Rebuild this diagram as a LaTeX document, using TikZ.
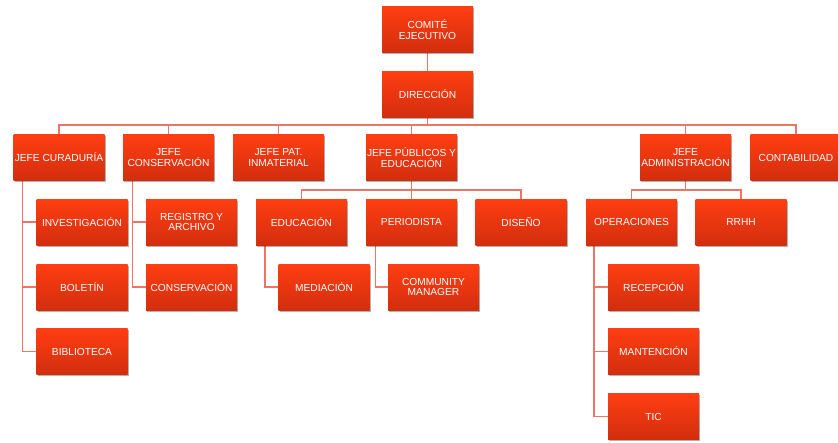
\documentclass[tikz,border=0pt]{standalone}
\usepackage{fontspec}
\setmainfont{Liberation Sans}
\usetikzlibrary{shadows,backgrounds}
\definecolor{boxtop}{HTML}{FF3E12}
\definecolor{boxbot}{HTML}{D22E0E}
\definecolor{linkc}{HTML}{EC7563}
\tikzset{
  orgbox/.style={rectangle, minimum width=91pt, minimum height=46pt, inner sep=0pt,
    top color=boxtop, bottom color=boxbot, text=white, align=center,
    font=\fontsize{10.2}{10.4}\selectfont,
    drop shadow={shadow xshift=1pt, shadow yshift=-1.8pt, opacity=0.3, fill=black}},
  link/.style={draw=linkc, line width=1.4pt}
}
\begin{document}
\begin{tikzpicture}[x=1pt,y=-1pt]
\useasboundingbox (0,0) rectangle (838,442);
% level 0-1
\node[orgbox] (com) at (427.5,29.5) {COMITÉ\\EJECUTIVO};
\node[orgbox] (dir) at (427.5,94) {DIRECCIÓN};
% level 2
\node[orgbox] (cur) at (59,157.5) {JEFE CURADURÍA};
\node[orgbox] (cons) at (168.5,157.5) {JEFE\\CONSERVACIÓN};
\node[orgbox] (pat) at (278.5,157.5) {JEFE PAT.\\INMATERIAL};
\node[orgbox] (pub) at (411.5,157.5) {JEFE PÚBLICOS Y\\EDUCACIÓN};
\node[orgbox] (adm) at (685.5,157.5) {JEFE\\ADMINISTRACIÓN};
\node[orgbox] (cont) at (796,157.5) {CONTABILIDAD};
% level 3
\node[orgbox] (inv) at (82,222) {INVESTIGACIÓN};
\node[orgbox] (reg) at (191.5,222) {REGISTRO Y\\ARCHIVO};
\node[orgbox] (edu) at (301.5,222) {EDUCACIÓN};
\node[orgbox] (per) at (411.5,222) {PERIODISTA};
\node[orgbox] (dis) at (521,222) {DISEÑO};
\node[orgbox] (ope) at (631.5,222) {OPERACIONES};
\node[orgbox] (rrhh) at (741,222) {RRHH};
% level 4
\node[orgbox] (bol) at (82,287) {BOLETÍN};
\node[orgbox] (con) at (191.5,287) {CONSERVACIÓN};
\node[orgbox] (med) at (324,287) {MEDIACIÓN};
\node[orgbox] (cm) at (433.5,287) {COMMUNITY\\MANAGER};
\node[orgbox] (rec) at (653.5,287) {RECEPCIÓN};
% level 5-6
\node[orgbox] (bib) at (82,351.5) {BIBLIOTECA};
\node[orgbox] (man) at (653.5,351.5) {MANTENCIÓN};
\node[orgbox] (tic) at (653.5,416.5) {TIC};
% helper coordinates
\coordinate (bus) at (0,125);
\coordinate (sbus) at (0,190);
\coordinate (cx) at (22.7,0);
\coordinate (nx) at (132.7,0);
\coordinate (ex) at (265,0);
\coordinate (px) at (375.5,0);
\coordinate (ox) at (594,0);
\begin{pgfonlayer}{background}
\draw[link] (com) -- (dir);
\draw[link] (dir.south) -- (dir.south |- bus);
\draw[link] (cur.north) -- (cur.north |- bus) -- (cont.north |- bus) -- (cont.north);
\foreach \n in {cons,pat,pub,adm} \draw[link] (\n.north) -- (\n.north |- bus);
% publicos
\draw[link] (pub.south) -- (per.north);
\draw[link] (edu.north) -- (edu.north |- sbus) -- (dis.north |- sbus) -- (dis.north);
% administracion
\draw[link] (adm.south) -- (adm.south |- sbus);
\draw[link] (ope.north) -- (ope.north |- sbus) -- (rrhh.north |- sbus) -- (rrhh.north);
% side branches
\draw[link] (cx |- cur.south) |- (bib.west);
\draw[link] (cx |- inv.west) -- (inv.west);
\draw[link] (cx |- bol.west) -- (bol.west);
\draw[link] (nx |- cons.south) |- (con.west);
\draw[link] (nx |- reg.west) -- (reg.west);
\draw[link] (ex |- edu.south) |- (med.west);
\draw[link] (px |- per.south) |- (cm.west);
\draw[link] (ox |- ope.south) |- (tic.west);
\draw[link] (ox |- rec.west) -- (rec.west);
\draw[link] (ox |- man.west) -- (man.west);
\end{pgfonlayer}
\end{tikzpicture}
\end{document}
